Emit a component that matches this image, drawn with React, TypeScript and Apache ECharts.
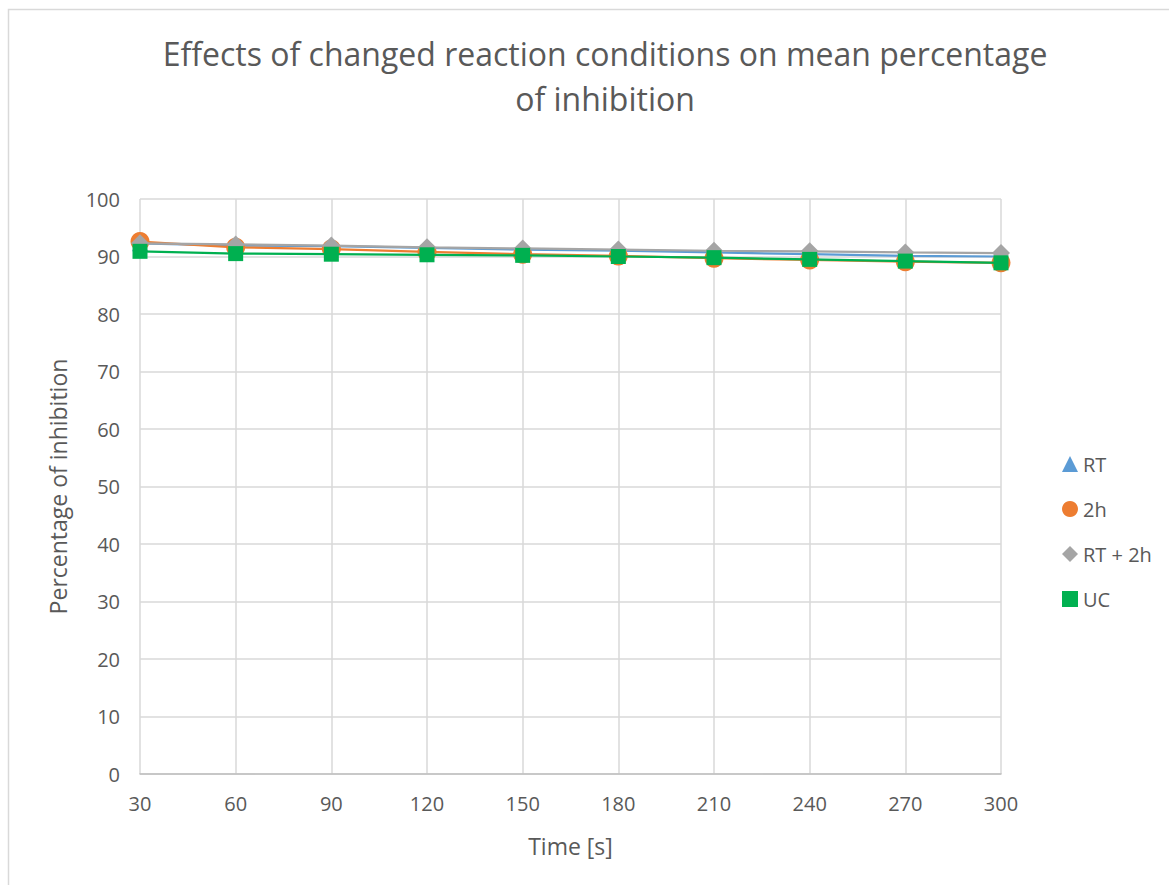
import React, { useEffect, useRef } from "react";
import * as echarts from "echarts";

const times = [30, 60, 90, 120, 150, 180, 210, 240, 270, 300];
const rtValues = [92.3, 91.9, 91.8, 91.5, 91.2, 91.0, 90.7, 90.4, 90.1, 90.0];
const twoHValues = [92.6, 91.6, 91.3, 90.8, 90.4, 90.1, 89.7, 89.4, 89.1, 88.9];
const rtTwoHValues = [92.3, 92.1, 91.9, 91.6, 91.4, 91.2, 91.0, 90.9, 90.7, 90.6];
const ucValues = [90.9, 90.5, 90.4, 90.3, 90.2, 90.0, 89.8, 89.5, 89.2, 88.9];

const seriesNames = ["RT", "2h", "RT + 2h", "UC"];
const seriesColors = ["#5b9bd5", "#ed7d31", "#a5a5a5", "#00b050"];
const seriesSymbols = ["triangle", "circle", "diamond", "rect"];
const symbolSizes = [16, 19, 18, 15];
const seriesValues = [rtValues, twoHValues, rtTwoHValues, ucValues];

const FONT = "'Open Sans', 'Noto Sans', sans-serif";
const TEXT = "#595959";

export default function App() {
  const ref = useRef<HTMLDivElement>(null);

  useEffect(() => {
    if (!ref.current) return;
    const chart = echarts.init(ref.current, null, { renderer: "svg" });
    chart.setOption({
      animation: false,
      backgroundColor: "#ffffff",
      textStyle: { fontFamily: FONT },
      title: {
        text: "Effects of changed reaction conditions on mean percentage\nof inhibition",
        left: 600,
        textAlign: "center",
        top: 26,
        textStyle: {
          fontFamily: FONT,
          fontSize: 32,
          fontWeight: "normal",
          color: TEXT,
          lineHeight: 45,
        },
      },
      graphic: [
        {
          type: "rect",
          shape: { x: 8.5, y: 9.5, width: 1300, height: 1000 },
          style: { fill: "none", stroke: "#d9d9d9", lineWidth: 1.5 },
          silent: true,
        },
      ],
      legend: {
        orient: "vertical",
        left: 1057,
        top: 449,
        itemGap: 25,
        itemWidth: 16,
        itemHeight: 16,
        data: seriesNames.map((n, i) => ({ name: n, icon: seriesSymbols[i] })),
        textStyle: { fontFamily: FONT, fontSize: 20, color: TEXT, padding: [0, 0, 0, 0] },
      },
      grid: { left: 140, right: 168, top: 199, bottom: 111, containLabel: false },
      xAxis: {
        type: "value",
        min: 30,
        max: 300,
        interval: 30,
        name: "Time [s]",
        nameLocation: "middle",
        nameGap: 60,
        nameTextStyle: { fontFamily: FONT, fontSize: 23, color: TEXT },
        axisLine: { show: true, lineStyle: { color: "#bfbfbf", width: 1.5 } },
        axisTick: { show: false },
        axisLabel: { fontFamily: FONT, fontSize: 20, color: TEXT, margin: 19 },
        splitLine: { show: true, lineStyle: { color: "#d9d9d9", width: 1.5 } },
      },
      yAxis: {
        type: "value",
        min: 0,
        max: 100,
        interval: 10,
        name: "Percentage of inhibition",
        nameLocation: "middle",
        nameGap: 71,
        nameRotate: 90,
        nameTextStyle: { fontFamily: FONT, fontSize: 23, color: TEXT },
        axisLine: { show: false },
        axisTick: { show: false },
        axisLabel: { fontFamily: FONT, fontSize: 20, color: TEXT, margin: 20 },
        splitLine: { show: true, lineStyle: { color: "#d9d9d9", width: 1.5 } },
      },
      series: seriesNames.map((name, i) => ({
        name,
        type: "line",
        data: times.map((t, j) => [t, seriesValues[i][j]]),
        symbol: seriesSymbols[i],
        symbolSize: symbolSizes[i],
        showAllSymbol: true,
        lineStyle: { color: seriesColors[i], width: 2.25 },
        itemStyle: { color: seriesColors[i] },
        z: 2 + i,
      })),
    });
    return () => chart.dispose();
  }, []);

  return (
    <div
      ref={ref}
      style={{ position: "fixed", left: 0, top: 0, width: 1169, height: 885 }}
    />
  );
}
